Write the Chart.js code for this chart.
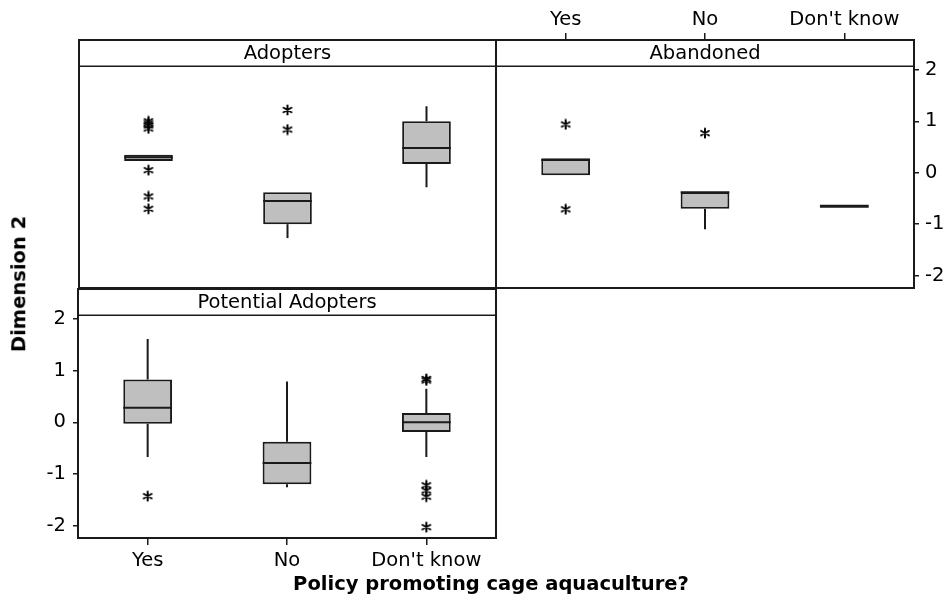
<!DOCTYPE html>
<html lang="en">
<head>
  <meta charset="UTF-8" />
  <title>Dimension 2 by policy</title>
  <script src="https://cdn.jsdelivr.net/npm/chart.js"></script>
  <style>
    body { margin:0; background:#fff; font-family:'DejaVu Sans',sans-serif; color:#000; }
    #wrap { position:relative; width:950px; height:602px; overflow:hidden; }
    canvas { position:absolute; }
    #cA { left:78px; top:39px; }
    #cB { left:495px; top:0; }
    #cC { left:0; top:288px; }
    .axis-title { position:absolute; font-weight:bold; font-size:19.5px; white-space:nowrap; line-height:1; }
    #xTitle { left:491px; top:574px; transform:translateX(-50%); }
    #yTitle { left:19px; top:284px; transform:translate(-50%,-50%) rotate(-90deg); }
  </style>
</head>
<body>
  <div id="wrap">
    <canvas id="cA" width="419" height="251"></canvas>
    <canvas id="cB" width="455" height="300"></canvas>
    <canvas id="cC" width="497" height="290"></canvas>
    <div class="axis-title" id="xTitle">Policy promoting cage aquaculture?</div>
    <div class="axis-title" id="yTitle">Dimension 2</div>
  </div>

  <script>
    const categories = ["Yes", "No", "Don't know"];
    const yTicks = [-2, -1, 0, 1, 2];

    // Adopters
    const adoptersLo  = [0.23, -1.27, -0.28];
    const adoptersQ1  = [0.23, -1.00, 0.17];
    const adoptersMed = [0.30, -0.55, 0.48];
    const adoptersQ3  = [0.35, -0.38, 1.00];
    const adoptersHi  = [0.35, -0.38, 1.29];
    const adoptersOut = [[1.00, 0.96, 0.92, 0.86, 0.05, -0.46, -0.70], [1.22, 0.84], []];

    // Abandoned
    const abandonedLo  = [-0.05, -1.10, -0.65];
    const abandonedQ1  = [-0.05, -0.70, -0.65];
    const abandonedMed = [0.25, -0.38, -0.65];
    const abandonedQ3  = [0.28, -0.38, -0.65];
    const abandonedHi  = [0.28, -0.38, -0.65];
    const abandonedOut = [[0.94, -0.71], [0.77], []];

    // Potential Adopters
    const potentialLo  = [-0.67, -1.26, -0.67];
    const potentialQ1  = [-0.03, -1.20, -0.19];
    const potentialMed = [0.28, -0.79, 0.00];
    const potentialQ3  = [0.83, -0.375, 0.18];
    const potentialHi  = [1.61, 0.79, 0.65];
    const potentialOut = [[-1.43], [], [0.84, 0.81, -1.22, -1.32, -1.44, -2.03]];

    // y range: plot area runs to PLOT_TOP, the strip with the panel name sits above it
    const Y_MIN = -2.24, Y_MAX = 2.58, PLOT_TOP = 2.07;
    const INK = '#1a1a1a';

    Chart.defaults.font.family = "'DejaVu Sans', sans-serif";
    Chart.defaults.font.size = 19.5;
    Chart.defaults.color = '#000';

    // asterisk marker like the ones minitab draws for outliers
    const star = document.createElement('canvas');
    star.width = 12; star.height = 12;
    (function () {
      const c = star.getContext('2d');
      c.strokeStyle = '#000'; c.lineWidth = 2; c.lineCap = 'round';
      c.beginPath();
      for (let k = 0; k < 3; k++) {
        const ang = Math.PI / 2 + k * Math.PI / 3;
        c.moveTo(6 + 4.5 * Math.cos(ang), 6 + 4.5 * Math.sin(ang));
        c.lineTo(6 - 4.5 * Math.cos(ang), 6 - 4.5 * Math.sin(ang));
      }
      c.stroke();
    })();

    function boxPlugin(title, lo, q1, med, q3, hi) {
      return {
        id: 'boxParts',
        beforeDatasetsDraw(chart) {
          const { ctx, scales: { y } } = chart;
          ctx.save();
          ctx.strokeStyle = INK; ctx.lineWidth = 2;
          chart.getDatasetMeta(0).data.forEach((bar, i) => {
            ctx.beginPath();
            ctx.moveTo(bar.x, y.getPixelForValue(lo[i])); ctx.lineTo(bar.x, y.getPixelForValue(q1[i]));
            ctx.moveTo(bar.x, y.getPixelForValue(q3[i])); ctx.lineTo(bar.x, y.getPixelForValue(hi[i]));
            ctx.stroke();
          });
          ctx.restore();
        },
        afterDatasetsDraw(chart) {
          const { ctx, scales: { y } } = chart;
          ctx.save();
          ctx.strokeStyle = INK;
          chart.getDatasetMeta(0).data.forEach((bar, i) => {
            const py = y.getPixelForValue(med[i]);
            ctx.lineWidth = q1[i] === q3[i] ? 3 : 2;
            ctx.beginPath();
            ctx.moveTo(bar.x - bar.width / 2, py); ctx.lineTo(bar.x + bar.width / 2, py);
            ctx.stroke();
          });
          ctx.restore();
        },
        afterDraw(chart) {
          const { ctx, chartArea: a, scales: { y } } = chart;
          const stripY = y.getPixelForValue(PLOT_TOP);
          ctx.save();
          ctx.strokeStyle = INK;
          ctx.lineWidth = 1.5;
          ctx.beginPath(); ctx.moveTo(a.left, stripY); ctx.lineTo(a.right, stripY); ctx.stroke();
          ctx.lineWidth = 2;
          ctx.strokeRect(a.left, a.top, a.right - a.left, a.bottom - a.top);
          ctx.fillStyle = '#000';
          ctx.font = "19.5px 'DejaVu Sans', sans-serif";
          ctx.textAlign = 'center'; ctx.textBaseline = 'middle';
          ctx.fillText(title, (a.left + a.right) / 2, (a.top + stripY) / 2 + 1);
          ctx.restore();
        }
      };
    }

    function axisStyle(tickLength, size) {
      return {
        grid: { display: true, offset: false, drawOnChartArea: false, drawTicks: true, tickLength: tickLength, color: INK, lineWidth: 1.5 },
        border: { display: true, color: INK, width: 2 },
        afterFit: s => {
          s[size.key] = size.value;
          s.paddingTop = 0; s.paddingBottom = 0; s.paddingLeft = 0; s.paddingRight = 0;
        }
      };
    }

    function boxChart(id, title, lo, q1, med, q3, hi, outliers, xOpts, yOpts, padding) {
      const points = [];
      outliers.forEach((list, i) => list.forEach(v => points.push({ x: categories[i], y: v })));
      return new Chart(document.getElementById(id), {
        type: 'bar',
        data: {
          labels: categories,
          datasets: [{
            data: q1.map((v, i) => [v, q3[i]]),
            backgroundColor: '#bfbfbf',
            borderColor: INK,
            borderWidth: 2,
            borderSkipped: false,
            barPercentage: 0.35,
            categoryPercentage: 1,
            grouped: false
          }, {
            type: 'scatter',
            data: points,
            pointStyle: star,
            radius: 6
          }]
        },
        options: {
          responsive: false,
          animation: false,
          events: [],
          layout: { padding: padding, autoPadding: false },
          plugins: { legend: { display: false }, tooltip: { enabled: false } },
          scales: {
            x: Object.assign({ type: 'category', offset: true }, xOpts),
            y: Object.assign({
              min: Y_MIN, max: Y_MAX,
              afterBuildTicks: s => { s.ticks = yTicks.map(v => ({ value: v })); }
            }, yOpts)
          }
        },
        plugins: [boxPlugin(title, lo, q1, med, q3, hi)]
      });
    }

    boxChart('cA', 'Adopters', adoptersLo, adoptersQ1, adoptersMed, adoptersQ3, adoptersHi, adoptersOut,
      { display: false }, { display: false },
      { left: 1, right: 1, top: 1, bottom: 2 });

    boxChart('cB', 'Abandoned', abandonedLo, abandonedQ1, abandonedMed, abandonedQ3, abandonedHi, abandonedOut,
      Object.assign({ position: 'top', ticks: { padding: 1 } }, axisStyle(7, { key: 'height', value: 40 })),
      Object.assign({ position: 'right', ticks: { padding: 6 } }, axisStyle(5, { key: 'width', value: 36 })),
      { left: 1, right: 0, top: 0, bottom: 12 });

    boxChart('cC', 'Potential Adopters', potentialLo, potentialQ1, potentialMed, potentialQ3, potentialHi, potentialOut,
      Object.assign({ position: 'bottom', ticks: { padding: 4 } }, axisStyle(7, { key: 'height', value: 40 })),
      Object.assign({ position: 'left', ticks: { padding: 7 } }, axisStyle(5, { key: 'width', value: 78 })),
      { left: 0, right: 1, top: 1, bottom: 0 });
  </script>
</body>
</html>
